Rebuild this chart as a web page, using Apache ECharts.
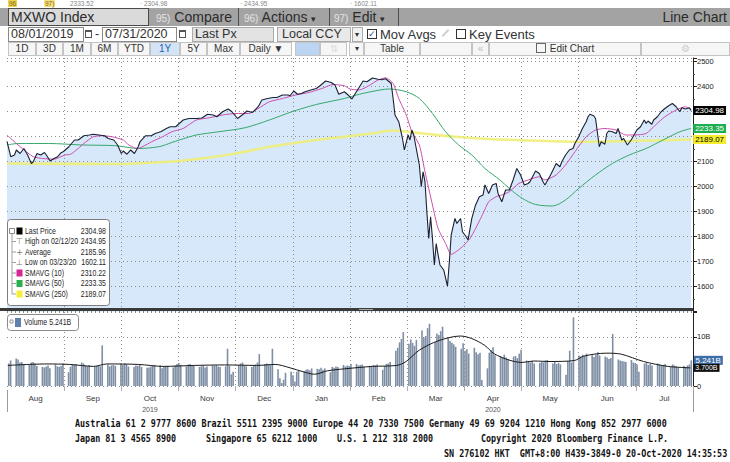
<!DOCTYPE html>
<html><head><meta charset="utf-8">
<script src="https://cdn.jsdelivr.net/npm/echarts@6/dist/echarts.min.js"></script>
<style>
html,body{margin:0;padding:0;background:#fff;}
#wrap{position:relative;width:730px;height:462px;overflow:hidden;font-family:'Liberation Sans',Arial,sans-serif;}
#chart{position:absolute;left:0;top:0;width:730px;height:462px;}
.a{position:absolute;white-space:nowrap;box-sizing:border-box;}
.r1{top:8px;height:18px;line-height:18px;font-size:14px;color:#2b2b2b;}
.pre{font-size:10px;color:#e4e4e4;}
.div{top:8px;width:1px;height:18px;background:#4e4e4e;}
.r2{top:27px;height:15px;line-height:13px;font-size:12.5px;color:#333;border:1px solid #8a8a8a;padding-left:2px;}
.btn{top:42px;height:14px;line-height:12px;font-size:10px;color:#333;border:1px solid #c4c4c4;background:#f6f6f6;text-align:center;}
.ft{position:absolute;font-family:'DejaVu Sans Mono',monospace;font-size:10.5px;font-weight:bold;color:#111;transform:scaleX(0.8);transform-origin:0 0;white-space:pre;line-height:12px;}
.tp{top:0;height:8px;line-height:8px;font-size:6.5px;color:#888;}
</style></head>
<body><div id="wrap">
<div id="chart"></div>

<!-- thin top strip -->
<div class="a tp" style="left:8px;"><span style="background:#f1d24a;color:#7a6a20;padding:0 1px;">96</span></div>
<div class="a tp" style="left:44px;"><span style="background:#f6e27a;color:#7a6a20;padding:0 1px;">97)</span></div>
<div class="a tp" style="left:70px;">2333.52</div>
<div class="a tp" style="left:140px;">· 2304.98</div>
<div class="a tp" style="left:240px;">· 2434.95</div>
<div class="a tp" style="left:350px;">· 1602.11</div>

<!-- row 1 -->
<div class="a" style="left:0;top:8px;width:730px;height:18px;background:#a3a3a3;"></div>
<div class="a r1" style="left:8px;width:141px;background:#dadada;border:1px solid #4a4a4a;padding-left:2px;line-height:16px;">MXWO Index</div>
<div class="a r1" style="left:156px;"><span class="pre">95)</span> Compare</div>
<div class="a div" style="left:238px;"></div>
<div class="a r1" style="left:244px;"><span class="pre">96)</span> Actions <span style="font-size:9px">&#9662;</span></div>
<div class="a div" style="left:329px;"></div>
<div class="a r1" style="left:334px;"><span class="pre">97)</span> Edit <span style="font-size:9px">&#9662;</span></div>
<div class="a div" style="left:398px;"></div>
<div class="a r1" style="right:3px;">Line Chart</div>

<!-- row 2 -->
<div class="a r2" style="left:8px;width:76px;">08/01/2019</div>
<div class="a" style="left:85px;top:30px;width:7px;height:8px;border:1px solid #555;border-top-width:2px;"></div>
<div class="a" style="left:95px;top:27px;font-size:12.5px;line-height:15px;color:#333;">-</div>
<div class="a r2" style="left:102px;width:75px;">07/31/2020</div>
<div class="a" style="left:179px;top:30px;width:7px;height:8px;border:1px solid #555;border-top-width:2px;"></div>
<div class="a r2" style="left:192px;width:82px;background:#e3e3e3;border-color:#aaa;">Last Px</div>
<div class="a r2" style="left:277px;width:74px;background:#e9e9e9;border-color:#aaa;padding-left:4px;">Local CCY</div>
<div class="a r2" style="left:352px;width:11px;background:#f0f0f0;border-color:#aaa;font-size:8px;padding-left:2px;">&#9662;</div>
<div class="a" style="left:367px;top:29px;width:10px;height:10px;border:1px solid #333;font-size:9px;line-height:9px;text-align:center;color:#1f4f9a;">&#10003;</div>
<div class="a" style="left:380px;top:27px;font-size:13px;line-height:15px;color:#333;">Mov Avgs</div>
<div class="a" style="left:441px;top:32px;width:9px;height:2px;background:#cfcfcf;transform:rotate(-45deg);"></div>
<div class="a" style="left:456px;top:29px;width:10px;height:10px;border:1px solid #333;"></div>
<div class="a" style="left:469px;top:27px;font-size:13px;line-height:15px;color:#333;">Key Events</div>

<!-- row 3 -->
<div class="a btn" style="left:8px;width:28px;">1D</div>
<div class="a btn" style="left:36px;width:27px;">3D</div>
<div class="a btn" style="left:63px;width:28px;">1M</div>
<div class="a btn" style="left:91px;width:27px;">6M</div>
<div class="a btn" style="left:118px;width:32px;">YTD</div>
<div class="a btn" style="left:150px;width:30px;background:#d3e4f7;color:#2a5db0;">1Y</div>
<div class="a btn" style="left:180px;width:27px;">5Y</div>
<div class="a btn" style="left:207px;width:33px;">Max</div>
<div class="a btn" style="left:240px;width:52px;">Daily &#9660;</div>
<div class="a btn" style="left:295px;width:25px;background:#bcd5f3;"></div>
<div class="a btn" style="left:320px;width:27px;color:#ddd;">&#8645;</div>
<div class="a btn" style="left:349px;width:15px;font-size:8px;">&#9662;</div>
<div class="a btn" style="left:364px;width:56px;">Table</div>
<div class="a btn" style="left:420px;width:52px;"></div>
<div class="a btn" style="left:472px;width:17px;color:#bbb;">&#171;</div>
<div class="a btn" style="left:489px;width:152px;"><span style="display:inline-block;width:8px;height:8px;border:1px solid #666;vertical-align:-1px;margin-right:4px;"></span>Edit Chart</div>
<div class="a btn" style="left:641px;width:89px;color:#ccc;">&#9881;</div>

<!-- footer -->
<div class="ft" style="left:75px;top:417px;">Australia 61 2 9777 8600 Brazil 5511 2395 9000 Europe 44 20 7330 7500 Germany 49 69 9204 1210 Hong Kong 852 2977 6000</div>
<div class="ft" style="left:75px;top:432px;">Japan 81 3 4565 8900</div>
<div class="ft" style="left:206px;top:432px;">Singapore 65 6212 1000</div>
<div class="ft" style="left:337px;top:432px;">U.S. 1 212 318 2000</div>
<div class="ft" style="left:481px;top:432px;">Copyright 2020 Bloomberg Finance L.P.</div>
<div class="ft" style="left:444px;top:447px;">SN 276102 HKT  GMT+8:00 H439-3849-0 20-Oct-2020 14:35:53</div>
</div>

<script>
// ---------- data ----------
const monthLabels = ['Aug','Sep','Oct','Nov','Dec','Jan','Feb','Mar','Apr','May','Jun','Jul'];
const yearLabels  = ['','','2019','','','','','','2020','','',''];
// tick labels visible on the right axis (2300 and 2200 are hidden under the value boxes)
const priceTicks  = [1600,1700,1800,1900,2000,2100,2400,2500];

// price: day offset from 2019-08-01 and value
const priceDay = [
0,2,4,5,7,9,11,13,14,16,
18,20,21,23,25,27,29,30,33,36,
38,41,44,46,49,52,54,57,59,61,
62,64,66,68,70,71,74,77,79,82,
85,87,90,94,97,101,104,107,110,112,
115,118,120,123,126,128,131,134,136,139,
142,144,147,150,151,153,155,157,159,162,
165,167,170,173,175,177,180,182,184,187,
190,192,195,198,200,202,205,206,207,209,
211,212,214,215,216,217,218,220,221,222,
223,224,225,226,227,228,229,230,231,233,
235,236,237,239,240,242,243,245,246,248,
250,252,254,255,257,259,261,262,264,266,
268,270,272,274,276,278,279,282,284,286,
287,290,293,295,296,298,300,302,303,305,
307,309,310,311,313,314,316,317,319,320,
321,323,325,326,328,329,331,333,335,336,
338,340,341,342,344,345,347,349,351,353,
355,357,359,360,362,364,365];
const priceVal = [
2181,2120,2127,2147,2133,2153,2127,2093,2100,2133,
2127,2137,2127,2103,2113,2120,2137,2140,2160,2187,
2187,2204,2207,2210,2207,2204,2193,2187,2167,2133,
2143,2130,2147,2133,2160,2180,2204,2204,2213,2220,
2233,2240,2240,2267,2273,2273,2275,2290,2287,2280,
2300,2311,2300,2273,2290,2303,2297,2320,2347,2353,
2357,2357,2367,2367,2364,2383,2370,2373,2380,2387,
2393,2404,2423,2417,2407,2370,2380,2367,2351,2387,
2423,2420,2435,2430,2428,2432,2413,2353,2287,2260,
2193,2147,2207,2187,2227,2207,2167,2087,2000,2060,
2020,1900,1793,1880,1793,1687,1773,1727,1687,1667,
1602,1700,1807,1873,1853,1873,1820,1800,1787,1873,
1927,1960,1967,2007,1973,2007,2013,1973,1940,1987,
1987,2027,2073,2047,2007,2013,2020,2063,2053,2020,
2007,2047,2093,2080,2100,2127,2147,2153,2173,2200,
2233,2260,2280,2290,2284,2273,2160,2180,2170,2213,
2223,2220,2213,2233,2187,2193,2167,2187,2213,2227,
2240,2267,2253,2263,2250,2267,2280,2300,2313,2324,
2333,2320,2300,2316,2311,2316,2305];

const sma10Day = [0,2,7,14,19,25,31,34,38,41,46,51,56,62,65,68,70,74,78,83,88,94,101,108,115,122,129,134,140,147,154,161,168,174,180,183,188,193,198,202,206,209,213,216,220,223,227,230,234,237,239,243,247,250,254,257,261,264,268,273,278,284,287,293,298,303,309,314,319,325,330,335,341,346,351,357,362,365];
const sma10Val = [2207,2193,2160,2120,2113,2110,2127,2130,2153,2173,2200,2204,2200,2187,2167,2156,2153,2167,2183,2200,2220,2233,2267,2276,2287,2293,2293,2313,2340,2353,2367,2377,2393,2409,2404,2391,2387,2404,2427,2436,2413,2353,2287,2220,2167,2060,1927,1833,1773,1729,1737,1760,1793,1833,1893,1940,1960,1967,1980,2013,2027,2040,2027,2047,2087,2140,2200,2227,2233,2227,2207,2207,2213,2247,2280,2307,2320,2310];

const sma50Day = [0,6,22,40,58,70,81,88,92,101,113,127,140,152,165,180,188,199,204,213,220,227,234,241,248,255,263,268,275,282,291,298,305,314,323,332,341,350,359,365];
const sma50Val = [2167,2173,2173,2167,2164,2153,2160,2177,2187,2207,2220,2236,2267,2300,2329,2353,2370,2387,2391,2380,2353,2293,2220,2167,2127,2073,2027,1993,1953,1929,1923,1947,1993,2047,2093,2127,2153,2187,2220,2233];

const sma250Day = [0,58,86,104,122,140,158,180,195,206,222,239,257,271,304,365];
const sma250Val = [2093,2091,2100,2113,2133,2160,2180,2200,2213,2225,2213,2200,2191,2187,2180,2189];

// daily volume (billions), one value per weekday, by month
const volAug = [4.6,5.2,5.6,5.4,4.8,4.9,4.5,4.3,4.8,4.9,4.6,4.1,3.9,3.8,4.0,4.2,3.6,4.4,4.0,3.9,4.1,4.6];
const volSep = [2.8,3.9,4.4,4.3,4.5,4.8,4.6,4.2,4.0,4.3,3.9,4.1,4.2,4.0,8.3,4.4,4.0,4.2,4.3,4.1,4.6];
const volOct = [4.3,4.6,4.4,4.0,3.9,4.2,4.1,4.4,3.9,3.7,3.8,4.0,4.1,4.3,4.2,3.6,3.9,4.0,4.1,3.8,4.2,4.5,4.7];
const volNov = [4.3,4.0,4.4,4.5,4.3,4.1,3.9,4.0,4.2,3.8,4.0,4.2,4.1,4.3,4.0,3.9,4.0,7.6,4.1,2.4,2.9];
const volDec = [4.3,4.6,4.8,4.2,4.0,3.9,4.1,4.4,4.8,6.5,4.5,4.6,4.4,4.3,7.6,3.4,1.6,0.6,1.3,2.7,2.9,2.2];
const volJan = [0.9,2.9,3.2,3.0,3.3,3.4,3.2,3.6,3.5,3.4,3.7,3.3,3.6,2.8,3.9,3.7,4.0,3.9,4.3,4.0,4.2,4.1,4.5];
const volFeb = [4.5,4.2,4.3,4.4,4.0,4.1,4.0,4.3,4.2,4.4,3.3,4.1,4.5,4.6,4.9,7.2,7.8,8.9,9.6,11.0];
const volMar = [8.6,9.5,8.8,8.2,9.4,11.3,9.9,10.2,11.8,12.7,9.0,10.7,10.4,11.2,12.1,9.8,9.2,8.8,8.5,8.0,7.6,8.7];
const volApr = [7.2,7.5,6.6,7.8,6.9,6.5,6.8,1.2,3.6,6.8,7.3,7.9,6.3,6.1,5.9,6.4,5.8,5.5,6.0,6.1,5.7,6.6];
const volMay = [7.4,5.2,5.0,4.8,5.1,4.6,4.7,5.0,4.8,5.2,5.3,4.6,4.9,4.5,4.7,4.4,2.3,5.1,7.2,4.8,14.0];
const volJun = [6.2,6.0,6.4,6.1,6.6,6.3,5.9,6.4,6.9,6.2,6.0,5.8,5.5,5.7,10.6,5.4,5.2,5.1,5.0,4.9,5.3,4.8];
const volJul = [4.7,4.4,2.9,4.6,4.8,4.3,4.5,4.2,4.6,4.4,4.1,4.3,4.5,3.9,4.4,4.2,4.0,3.8,4.1,3.9,4.2,4.4,5.241];

const volMaDay = [0,21,33,46,53,70,83,100,116,133,143,151,158,164,171,180,195,208,213,220,230,242,248,255,260,268,275,281,290,303,308,320,328,340,353,365];
const volMaVal = [4.2,4.5,4.4,4.0,4.5,4.4,4.0,4.2,4.3,4.2,4.4,3.7,2.9,2.4,3.1,3.5,4.0,4.2,5.0,7.3,9.2,10.2,9.7,8.3,6.6,5.3,4.8,5.1,5.0,5.2,6.1,6.7,6.5,5.0,4.0,3.7];

const legendNames = ['Last Price','High on 02/12/20','Average','Low on 03/23/20','SMAVG (10)','SMAVG (50)','SMAVG (250)'];
const legendVals  = ['2304.98','2434.95','2185.96','1602.11','2310.22','2233.35','2189.07'];

// ---------- build ----------
const DAY = 86400000;
const T0 = Date.UTC(2019, 7, 1);
const T1 = Date.UTC(2020, 7, 1);
const pts = (days, vals) => days.map((d, i) => [T0 + d * DAY, vals[i]]);

const tradingDays = [];
for (let t = T0; t <= Date.UTC(2020, 6, 31); t += DAY) {
  const w = new Date(t).getUTCDay();
  if (w !== 0 && w !== 6) tradingDays.push(t + DAY / 2);
}
const volume = [].concat(volAug, volSep, volOct, volNov, volDec, volJan, volFeb, volMar, volApr, volMay, volJun, volJul);
const volData = tradingDays.map((t, i) => [t, volume[i]]);
const lastV = volData.length - 1;
volData[lastV] = {
  value: volData[lastV],
  label: { show: true, position: [3, 0], verticalAlign: 'middle', align: 'left',
    formatter: '5.241B', backgroundColor: '#3e6ea8', color: '#fff', fontSize: 8,
    fontFamily: 'Liberation Sans', padding: [1, 2, 0, 2] }
};

const dotted = { color: '#8e8e8e', type: [1, 3], width: 1 };
const F = 'Liberation Sans';

const chart = echarts.init(document.getElementById('chart'), null, { renderer: 'svg' });

// legend graphic
const g = [];
g.push({ type: 'rect', z: 100, shape: { x: 7.5, y: 219.5, width: 102, height: 86, r: 3 },
  style: { fill: '#fff', stroke: '#7c7c7c', lineWidth: 1 } });
const rowY = [231, 241.5, 252, 262.5, 273, 283.5, 294];
g.push({ type: 'line', z: 101, shape: { x1: 12, y1: 233, x2: 12, y2: 294 }, style: { stroke: '#a0a0a0', lineWidth: 1 } });
g.push({ type: 'rect', z: 102, shape: { x: 9.5, y: 228.5, width: 5, height: 5 }, style: { fill: '#fff', stroke: '#888', lineWidth: 1 } });
const iconCol = ['#000', null, null, null, '#d62597', '#27b04e', '#f4ee3a'];
const iconGlyph = ['', '\u22A4', '+', '\u22A5', '', '', ''];
rowY.forEach((y, i) => {
  if (i > 0) g.push({ type: 'line', z: 101, shape: { x1: 12, y1: y, x2: 16, y2: y }, style: { stroke: '#a0a0a0', lineWidth: 1 } });
  if (iconCol[i]) g.push({ type: 'rect', z: 102, shape: { x: 16.5, y: y - 3.5, width: 6, height: 7 }, style: { fill: iconCol[i] } });
  else g.push({ type: 'text', z: 102, x: 19.5, y: y, style: { text: iconGlyph[i], font: '8px "DejaVu Sans"', fill: '#777', align: 'center', verticalAlign: 'middle' } });
  g.push({ type: 'text', z: 102, x: 25, y: y, scaleX: 0.82, style: { text: legendNames[i], font: '8.5px "' + F + '"', fill: '#1e1e1e', verticalAlign: 'middle' } });
  g.push({ type: 'text', z: 102, x: 106, y: y, scaleX: 0.82, style: { text: legendVals[i], font: '8.5px "' + F + '"', fill: '#1e1e1e', align: 'right', verticalAlign: 'middle' } });
});
// volume legend
g.push({ type: 'rect', z: 100, shape: { x: 7.5, y: 314.5, width: 71, height: 16, r: 3 }, style: { fill: '#fff', stroke: '#8a8a8a', lineWidth: 1 } });
g.push({ type: 'rect', z: 102, shape: { x: 10, y: 320, width: 3, height: 3 }, style: { fill: '#fff', stroke: '#999', lineWidth: 1 } });
g.push({ type: 'rect', z: 102, shape: { x: 15, y: 318, width: 6, height: 9 }, style: { fill: '#5e80ae' } });
g.push({ type: 'text', z: 102, x: 24, y: 322.5, scaleX: 0.82, style: { text: 'Volume 5.241B', font: '8.5px "' + F + '"', fill: '#1e1e1e', verticalAlign: 'middle' } });
// panel separator
g.push({ type: 'rect', z: 90, shape: { x: 0, y: 308, width: 693, height: 3 }, style: { fill: '#3a3a3a' } });
g.push({ type: 'rect', z: 91, shape: { x: 359, y: 309, width: 14, height: 1 }, style: { fill: '#a8a8a8' } });

const monthAxisBase = {
  type: 'category', data: monthLabels, boundaryGap: true,
  axisLine: { show: false }, axisTick: { show: false }, axisLabel: { show: false },
  splitLine: { show: true, interval: (i) => i !== 0, lineStyle: dotted }, z: 3
};

chart.setOption({
  animation: false,
  backgroundColor: 'transparent',
  grid: [
    { left: 7, right: 37, top: 58, height: 253.7, outerBoundsMode: 'none' },
    { left: 7, right: 37, top: 312, height: 74, outerBoundsMode: 'none' }
  ],
  xAxis: [
    { type: 'time', gridIndex: 0, min: T0, max: T1, show: false },
    Object.assign({}, monthAxisBase, { gridIndex: 0 }),
    { type: 'time', gridIndex: 1, min: T0, max: T1, show: false },
    Object.assign({}, monthAxisBase, { gridIndex: 1, position: 'bottom',
      axisTick: { show: true, length: 5, interval: (i) => i !== 0, lineStyle: { color: '#b0b0b0' } },
      axisLabel: { show: true, interval: 0, margin: 8, fontSize: 8, color: '#3a3a3a', fontFamily: F } }),
    { type: 'category', gridIndex: 1, data: monthLabels, boundaryGap: true, position: 'bottom', offset: 4,
      axisLine: { show: false }, splitLine: { show: false },
      axisTick: { show: true, length: 22, interval: (i) => i === 5, lineStyle: { color: '#9a9a9a' } },
      axisLabel: { show: true, interval: 0, margin: 16, fontSize: 7, color: '#555', fontFamily: F,
        formatter: (v, i) => yearLabels[i] } }
  ],
  yAxis: [
    { type: 'value', gridIndex: 0, position: 'right', min: 1500, max: 2515, interval: 100, z: 3,
      axisLine: { show: true, lineStyle: { color: '#222' } },
      axisTick: { show: true, length: 4, lineStyle: { color: '#222' } },
      minorTick: { show: true, splitNumber: 2, length: 2, lineStyle: { color: '#555' } },
      minorSplitLine: { show: false },
      axisLabel: { margin: 4, fontSize: 7.5, color: '#222', fontFamily: F,
        formatter: (v) => priceTicks.indexOf(v) >= 0 ? String(v) : '' },
      splitLine: { show: true, lineStyle: dotted } },
    { type: 'value', gridIndex: 1, position: 'right', min: 0, max: 15.1, interval: 10, z: 3,
      axisLine: { show: true, lineStyle: { color: '#222' } },
      axisTick: { show: true, length: 4, lineStyle: { color: '#222' } },
      axisLabel: { margin: 4, fontSize: 7.5, color: '#222', fontFamily: F,
        formatter: (v) => v === 10 ? '10B' : (v === 0 ? '0' : '') },
      splitLine: { show: true, lineStyle: dotted } }
  ],
  graphic: g,
  series: [
    { type: 'line', name: 'fill', xAxisIndex: 0, yAxisIndex: 0, data: pts(priceDay, priceVal),
      showSymbol: false, silent: true, z: 1, lineStyle: { width: 0 },
      areaStyle: { color: 'rgba(160,200,245,0.6)', origin: 'start' } },
    { type: 'line', name: 'SMAVG (250)', xAxisIndex: 0, yAxisIndex: 0, data: pts(sma250Day, sma250Val),
      showSymbol: false, smooth: 0.3, z: 4, lineStyle: { color: '#eeee78', width: 2.6, opacity: 0.9 },
      endLabel: { show: true, formatter: '2189.07', backgroundColor: '#f4ef2e', color: '#000', fontSize: 8,
        fontFamily: F, padding: [1, 2, 0, 2], distance: 2 } },
    { type: 'line', name: 'SMAVG (50)', xAxisIndex: 0, yAxisIndex: 0, data: pts(sma50Day, sma50Val),
      showSymbol: false, smooth: 0.3, z: 4, lineStyle: { color: '#36a86a', width: 1 },
      endLabel: { show: true, formatter: '2233.35', backgroundColor: '#1fae4f', color: '#fff', fontSize: 8,
        fontFamily: F, padding: [1, 2, 0, 2], distance: 2 } },
    { type: 'line', name: 'SMAVG (10)', xAxisIndex: 0, yAxisIndex: 0, data: pts(sma10Day, sma10Val),
      showSymbol: false, smooth: 0.2, z: 4, lineStyle: { color: '#cc4fae', width: 1 } },
    { type: 'line', name: 'Last Price', xAxisIndex: 0, yAxisIndex: 0, data: pts(priceDay, priceVal),
      showSymbol: false, z: 5, lineStyle: { color: '#1b2133', width: 1.1 },
      endLabel: { show: true, formatter: '2304.98', backgroundColor: '#000', color: '#fff', fontSize: 8,
        fontFamily: F, padding: [1, 2, 0, 2], distance: 2 } },
    { type: 'bar', name: 'Volume', xAxisIndex: 2, yAxisIndex: 1, data: volData, barWidth: 1.6, z: 2,
      itemStyle: { color: '#7e8fa5' } },
    { type: 'line', name: 'Volume MA', xAxisIndex: 2, yAxisIndex: 1, data: pts(volMaDay, volMaVal),
      showSymbol: false, smooth: 0.3, z: 5, lineStyle: { color: '#1a1a1a', width: 1 },
      endLabel: { show: true, formatter: '3.700B', backgroundColor: '#111', color: '#fff', fontSize: 7,
        fontFamily: F, padding: [1, 2, 0, 2], distance: 3 } }
  ]
});
</script>
</body></html>
